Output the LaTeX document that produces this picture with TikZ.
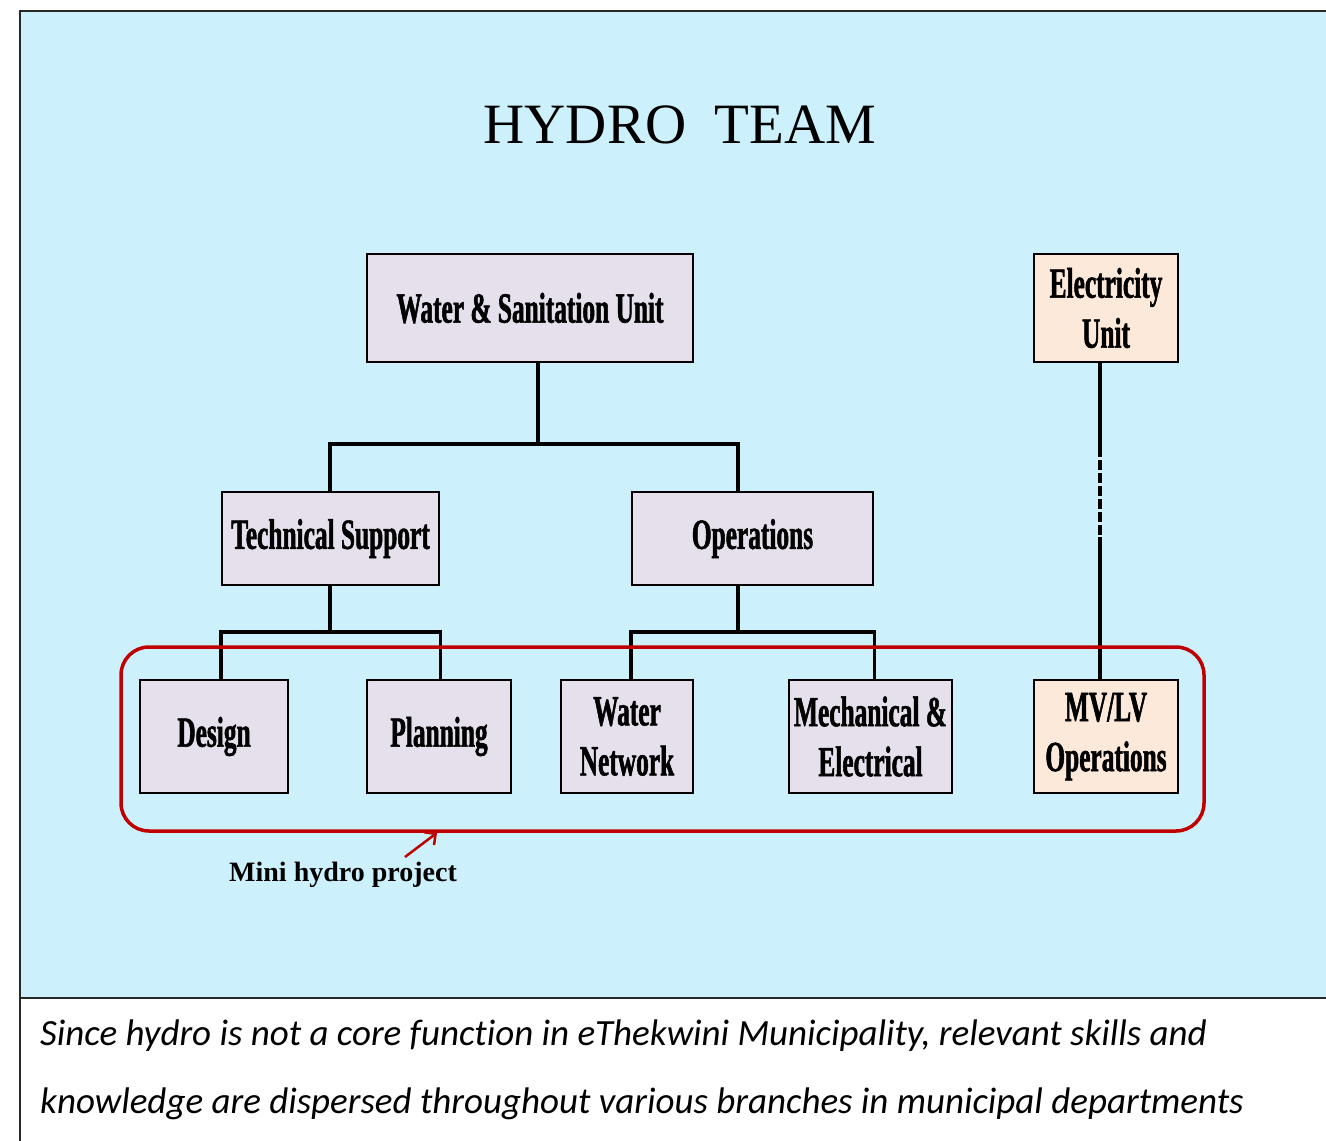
\documentclass[tikz,border=0pt]{standalone}
\usepackage{fontspec}
\setmainfont{Liberation Serif}
\newfontfamily\boxfont{Liberation Serif}[FakeStretch=0.59,FakeBold=1.2]
\newfontfamily\capfont{Carlito}[Ligatures=NoCommon]
\usetikzlibrary{arrows.meta}
\definecolor{bgblue}{RGB}{204,241,252}
\definecolor{lav}{RGB}{230,224,236}
\definecolor{peach}{RGB}{253,233,217}
\definecolor{darkred}{RGB}{192,0,0}
\definecolor{framegray}{RGB}{40,40,40}
\tikzset{
  unitbox/.style={draw=black, line width=2.5pt, fill=lav, rectangle, inner sep=0pt,
    align=center, font=\boxfont\bfseries\fontsize{43}{50}\selectfont},
  elecbox/.style={unitbox, fill=peach},
  conn/.style={draw=black, line width=3.5pt},
  dconn/.style={draw=black, line width=3.2pt, dash pattern=on 10pt off 3pt},
  redframe/.style={draw=darkred, line width=3.5pt, rounded corners=28pt, rectangle, inner sep=0pt},
}
\begin{document}
\begin{tikzpicture}[x=1pt,y=-1pt]
\useasboundingbox (0,0) rectangle (1326,1141);
% frame
\fill[bgblue] (20,11) rectangle (1326,998);
\draw[framegray, line width=2pt] (1326,11) -- (20,11) -- (20,1141);
\draw[framegray, line width=2pt] (20,998) -- (1326,998);
% title
\node[font=\fontsize{57}{60}\selectfont, anchor=base] (title) at (680,143) {HYDRO\ \ TEAM};
% boxes
\node[unitbox, minimum width=326pt, minimum height=108pt] (ws) at (530,308) {Water \& Sanitation Unit};
\node[elecbox, minimum width=144pt, minimum height=108pt] (eu) at (1106,308) {Electricity\\Unit};
\node[unitbox, minimum width=217pt, minimum height=93pt] (ts) at (330.5,538.5) {Technical Support};
\node[unitbox, minimum width=241pt, minimum height=93pt] (ops) at (752.5,538.5) {Operations};
\node[unitbox, minimum width=148pt, minimum height=113pt] (des) at (214,736.5) {Design};
\node[unitbox, minimum width=144pt, minimum height=113pt] (pla) at (439,736.5) {Planning};
\node[unitbox, minimum width=132pt, minimum height=113pt] (wn) at (627,736.5) {Water\\Network};
\node[unitbox, minimum width=163pt, minimum height=113pt] (me) at (870.5,736.5) {Mechanical \&\\Electrical};
\node[elecbox, minimum width=144pt, minimum height=113pt] (mv) at (1106,736.5) {MV/LV\\Operations};
% connectors
\coordinate (j1) at (538,444);
\coordinate (j2) at (330,632);
\coordinate (j3) at (738,632);
\draw[conn] (ws.south -| j1) -- (j1);
\draw[conn] (ts.north -| j2) |- (j1);
\draw[conn] (ops.north -| j3) |- (j1);
\draw[conn] (ts.south -| j2) -- (j2);
\draw[conn] (des.north -| ts.west) |- (j2);
\draw[conn] (pla.north -| ts.east) |- (j2);
\draw[conn] (ops.south -| j3) -- (j3);
\draw[conn] (wn.north -| ops.west) |- (j3);
\draw[conn] (me.north -| ops.east) |- (j3);
% electricity link
\coordinate (e1) at (1100,447);
\coordinate (e2) at (1100,537);
\draw[conn] (eu.south -| e1) -- (e1);
\draw[dconn] (e1) -- (e2);
\draw[conn] (e2) -- (mv.north -| e2);
% mini hydro frame
\node[redframe, minimum width=1083pt, minimum height=184pt] (mhp) at (662.5,739) {};
\node[font=\bfseries\fontsize{28}{30}\selectfont, anchor=base] (mini) at (343,881) {Mini hydro project};
\coordinate (tail) at (405,857);
\draw[darkred, line width=2.5pt, -{Straight Barb[length=8pt,width=16pt]}] (tail) -- (mhp.south -| 437,0);
% caption
\node[font=\capfont\itshape\fontsize{37}{40}\selectfont, anchor=base west, inner sep=0pt] (cap1) at (40,1045) {Since hydro is not a core function in eThekwini Municipality, relevant skills and};
\node[font=\capfont\itshape\fontsize{37}{40}\selectfont, anchor=base west, inner sep=0pt] (cap2) at (40,1113) {knowledge are dispersed throughout various branches in municipal departments};
\end{tikzpicture}
\end{document}
